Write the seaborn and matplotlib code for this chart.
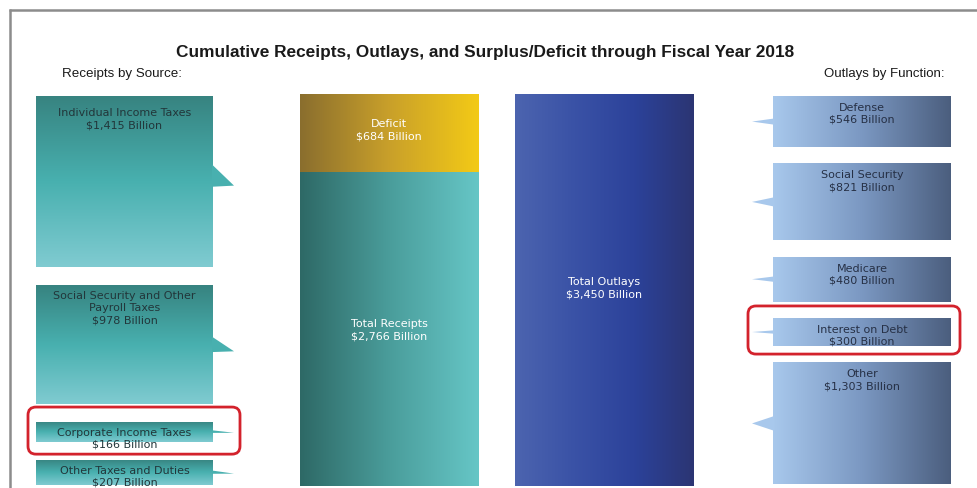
import numpy as np
import pandas as pd
import matplotlib
matplotlib.use("Agg")
import matplotlib.pyplot as plt
from matplotlib.colors import LinearSegmentedColormap
from matplotlib.patches import FancyBboxPatch, Polygon
from matplotlib import font_manager
import seaborn as sns

# ---------------- data ----------------
title = "Cumulative Receipts, Outlays, and Surplus/Deficit through Fiscal Year 2018"
left_heading = "Receipts by Source:"
right_heading = "Outlays by Function:"

receipt_sources = ["Individual Income Taxes", "Social Security and Other\nPayroll Taxes",
                   "Corporate Income Taxes", "Other Taxes and Duties"]
receipt_values = [1415, 978, 166, 207]

outlay_functions = ["Defense", "Social Security", "Medicare", "Interest on Debt", "Other"]
outlay_values = [546, 821, 480, 300, 1303]

total_receipts = 2766
deficit = 684
total_outlays = 3450
middle_bars = ["Receipts", "Outlays"]

highlighted = ["Corporate Income Taxes", "Interest on Debt"]

# ---------------- style ----------------
sns.set_style("white")
names = {f.name for f in font_manager.fontManager.ttflist}
narrow = "Liberation Sans Narrow" if "Liberation Sans Narrow" in names else "Liberation Sans"
plt.rcParams['font.family'] = ['DejaVu Sans']

W, H = 977, 489
fig = plt.figure(figsize=(W / 100, H / 100), dpi=100)
fig.patch.set_facecolor("white")

ov = fig.add_axes([0, 0, 1, 1])
ov.set_xlim(0, W)
ov.set_ylim(H, 0)
ov.set_autoscale_on(False)
ov.axis('off')

LABEL_FS = 8.0
LEFT_TXT = '#22363a'
RIGHT_TXT = '#263045'

left_cols = ['#378380', '#48b0af', '#80cbd1']
right_cols = ['#a8c8ec', '#7b98c2', '#4b5e7e']
deficit_cols = ['#8a6e2e', '#c9a02a', '#f3ca16']
receipt_cols = ['#2e6966', '#4a9d9b', '#66c6c6']
outlay_cols = ['#4c64af', '#3a52a6', '#2c429a', '#2b3573']


def grad_fill(ax, patch, colors, horizontal=True, z=1):
    cmap = LinearSegmentedColormap.from_list("g", colors)
    x0, y0 = patch.get_x(), patch.get_y()
    w, h = patch.get_width(), patch.get_height()
    g = np.linspace(0, 1, 256)
    arr = g[None, :] if horizontal else g[:, None]
    im = ax.imshow(arr, cmap=cmap, aspect='auto', extent=[x0, x0 + w, y0, y0 + h],
                   origin='lower', interpolation='bicubic', zorder=z)
    im.set_clip_path(patch)
    patch.set_facecolor('none')
    patch.set_edgecolor('none')
    return cmap


# ---------------- middle bars (seaborn) ----------------
mid = fig.add_axes([281.25 / W, 2 / H, 431 / W, 392 / H])
mid.patch.set_alpha(0)
df_top = pd.DataFrame({"bar": middle_bars, "value": [total_receipts + deficit, total_outlays]})
sns.barplot(data=df_top, x="bar", y="value", order=middle_bars, hue="bar",
            palette=["#c9a02a", "#3a50a3"], width=0.826, legend=False,
            saturation=1, linewidth=0, ax=mid)
top_patches = list(mid.patches)
df_rec = pd.DataFrame({"bar": ["Receipts"], "value": [total_receipts]})
sns.barplot(data=df_rec, x="bar", y="value", order=middle_bars, color="#4a9d9b",
            width=0.826, saturation=1, linewidth=0, ax=mid)
rec_patches = [p for p in mid.patches if p not in top_patches]

for p in top_patches:
    cx = p.get_x() + p.get_width() / 2
    if abs(cx - 0) < 0.3:
        grad_fill(mid, p, deficit_cols, z=1)
    else:
        grad_fill(mid, p, outlay_cols, z=1)
for p in rec_patches:
    grad_fill(mid, p, receipt_cols, z=2)

mid.set_xlim(-0.5, 1.5)
mid.set_ylim(0, total_outlays)
mid.axis('off')

mid.text(0, total_receipts + deficit * 0.55, f"Deficit\n${deficit:,} Billion", ha='center', va='center',
         color='white', fontsize=LABEL_FS, linespacing=1.3, zorder=5)
mid.text(0, total_receipts / 2, f"Total Receipts\n${total_receipts:,} Billion", ha='center', va='center',
         color='white', fontsize=LABEL_FS, linespacing=1.3, zorder=5)
mid.text(1, total_outlays / 2 + 25, f"Total Outlays\n${total_outlays:,} Billion", ha='center', va='center',
         color='white', fontsize=LABEL_FS, linespacing=1.3, zorder=5)

# ---------------- side stacks ----------------
L_X0, L_W = 36, 177
l_scale, l_gap = 0.121, 18.0
R_X0, R_W = 773, 178
r_scale, r_gap = 0.0937, 16.3
STACK_TOP = 97
TAIL = 21

box_extent = {}

top = STACK_TOP
for i, (name, v) in enumerate(zip(receipt_sources, receipt_values)):
    h = v * l_scale
    bars = ov.bar(L_X0, h, bottom=top, width=L_W, align='edge', linewidth=0)
    cmap = grad_fill(ov, bars.patches[0], left_cols, horizontal=False, z=1)
    c = top + h / 2 - (6 if i == 0 else 0)
    hb = max(h * 0.065, 0.8)
    x1 = L_X0 + L_W
    ov.add_patch(Polygon([(x1 - 1, c - hb), (x1 + TAIL, c + 0.9 * hb), (x1 - 1, c + hb)],
                         closed=True, facecolor=cmap(0.5), edgecolor='none', zorder=1))
    pad = 11 if i == 0 else 5
    ov.text(L_X0 + L_W / 2, top + pad, f"{name}\n${v:,} Billion", ha='center', va='top',
            fontsize=LABEL_FS, color=LEFT_TXT, linespacing=1.25, zorder=5)
    box_extent[name.replace("\n", " ")] = (L_X0, top, L_X0 + L_W, top + h)
    top += h + l_gap

top = STACK_TOP
for name, v in zip(outlay_functions, outlay_values):
    h = v * r_scale
    bars = ov.bar(R_X0, h, bottom=top, width=R_W, align='edge', linewidth=0)
    cmap = grad_fill(ov, bars.patches[0], right_cols, horizontal=True, z=1)
    c = top + h / 2
    hb = max(h * 0.06, 0.8)
    ov.add_patch(Polygon([(R_X0 + 1, c - hb), (R_X0 - TAIL, c), (R_X0 + 1, c + hb)],
                         closed=True, facecolor=cmap(0.0), edgecolor='none', zorder=1))
    ov.text(R_X0 + R_W / 2, top + 6, f"{name}\n${v:,} Billion", ha='center', va='top',
            fontsize=LABEL_FS, color=RIGHT_TXT, linespacing=1.25, zorder=5)
    box_extent[name] = (R_X0, top, R_X0 + R_W, top + h)
    top += h + r_gap

# ---------------- highlight boxes ----------------
for name in highlighted:
    x0, y0, x1, y1 = box_extent[name]
    if x0 < W / 2:
        rx0, ry0, rx1, ry1 = x0 - 8, y0 - 14.5, x1 + 27, y1 + 12.5
    else:
        rx0, ry0, rx1, ry1 = x0 - 25, y0 - 12, x1 + 9, y1 + 8
    ov.add_patch(FancyBboxPatch((rx0, ry0), rx1 - rx0, ry1 - ry0,
                                boxstyle="round,pad=0,rounding_size=8",
                                facecolor='none', edgecolor='#d3222c', linewidth=2.0, zorder=6))

# ---------------- frame ----------------
ov.plot([9, W], [10.5, 10.5], color='#8c8c8c', lw=1.8, solid_capstyle='butt', zorder=7)
ov.plot([9.5, 9.5], [10, H], color='#8c8c8c', lw=1.8, solid_capstyle='butt', zorder=7)

# ---------------- headings (fit widths) ----------------
fig.canvas.draw()
renderer = fig.canvas.get_renderer()


def fitted_text(x, y, s, target_w, size, ha, weight='normal'):
    t = ov.text(x, y, s, ha=ha, va='center', fontsize=size, family=[narrow, 'DejaVu Sans'],
                fontweight=weight, color='#1a1a1a', zorder=8)
    w = t.get_window_extent(renderer=renderer).width
    if w > 0:
        t.set_fontsize(size * target_w / w)
    return t


fitted_text(485, 52, title, 618, 12.5, 'center', weight='bold')
fitted_text(62, 74, left_heading, 121, 10.5, 'left')
fitted_text(944, 74, right_heading, 122, 10.5, 'right')

ov.set_xlim(0, W)
ov.set_ylim(H, 0)

fig.savefig("out.png", dpi=100, facecolor='white')
